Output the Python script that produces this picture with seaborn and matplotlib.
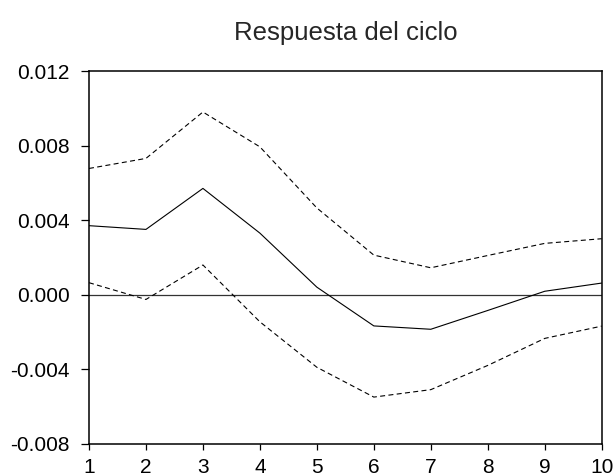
import matplotlib
matplotlib.use("Agg")
import matplotlib.pyplot as plt
import seaborn as sns
import pandas as pd

periods = [1, 2, 3, 4, 5, 6, 7, 8, 9, 10]
response = [0.0037, 0.0035, 0.0057, 0.0033, 0.0004, -0.00168, -0.00186, -0.00085, 0.00018, 0.00062]
upper = [0.00677, 0.00731, 0.0098, 0.00793, 0.00465, 0.00212, 0.00144, 0.0021, 0.00275, 0.0030]
lower = [0.00064, -0.00026, 0.00159, -0.00146, -0.0039, -0.0055, -0.0051, -0.0038, -0.00235, -0.00169]
yticks = [-0.008, -0.004, 0.000, 0.004, 0.008, 0.012]
ytick_labels = ["-0.008", "-0.004", "0.000", "0.004", "0.008", "0.012"]
title = "Respuesta del ciclo"

sns.set_theme(style="white")
plt.rcParams["font.family"] = ["Liberation Sans", "DejaVu Sans"]

df = pd.DataFrame({
    "period": periods * 3,
    "value": response + upper + lower,
    "series": ["resp"] * 10 + ["up"] * 10 + ["lo"] * 10,
})

fig = plt.figure(figsize=(6.15, 4.76), dpi=100)
ax = fig.add_axes([0.1447, 0.0679, 0.8337, 0.7829])

ax.axhline(0, color="#333333", lw=0.9, zorder=1)
sns.lineplot(data=df, x="period", y="value", hue="series", style="series",
             palette={"resp": "black", "up": "black", "lo": "black"},
             dashes={"resp": "", "up": (4.5, 3), "lo": (4.5, 3)},
             linewidth=0.8, legend=False, ax=ax, zorder=2)

ax.set_xlim(1, 10)
ax.set_ylim(-0.008, 0.012)
ax.set_xticks(periods)
ax.set_xticklabels([str(p) for p in periods])
ax.set_yticks(yticks)
ax.set_yticklabels(ytick_labels)
ax.set_xlabel("")
ax.set_ylabel("")
ax.set_title(title, fontsize=18.5, pad=22)

for s in ax.spines.values():
    s.set_visible(True)
    s.set_color("black")
    s.set_linewidth(1.1)

ax.tick_params(axis="y", direction="out", length=6, width=0.9, colors="black",
               labelsize=15, pad=8, left=True)
ax.tick_params(axis="x", direction="out", length=4, width=0.9, colors="black",
               labelsize=15, pad=6, bottom=True)
ax.grid(False)

fig.savefig("out.png", dpi=100)
